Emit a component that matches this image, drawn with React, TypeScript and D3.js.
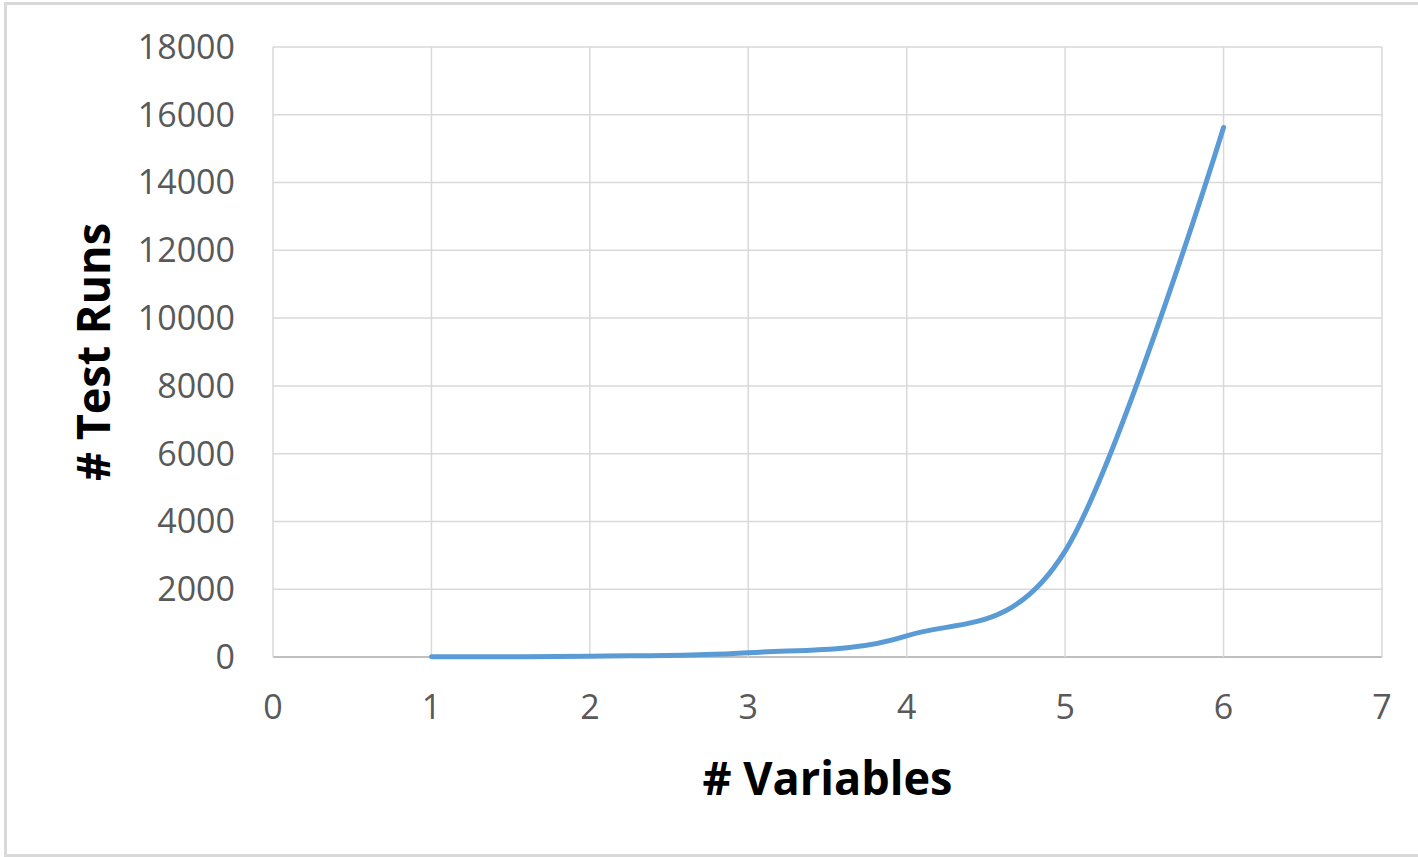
import React from "react";
import * as d3 from "d3";

// Number of test runs needed for a given number of variables
const variables: number[] = [1, 2, 3, 4, 5, 6];
const testRuns: number[] = [5, 25, 125, 625, 3125, 15625];

const xTicks: number[] = [0, 1, 2, 3, 4, 5, 6, 7];
const yTicks: number[] = [0, 2000, 4000, 6000, 8000, 10000, 12000, 14000, 16000, 18000];

const xTitle = "# Variables";
const yTitle = "# Test Runs";

const W = 1418;
const H = 857;
const plot = { left: 273, right: 1382, top: 47, bottom: 657 };

const tickFont = "'Open Sans', 'Liberation Sans', sans-serif";

export default function App() {
  const x = d3.scaleLinear().domain([0, 7]).range([plot.left, plot.right]);
  const y = d3.scaleLinear().domain([0, 18000]).range([plot.bottom, plot.top]);

  const points: [number, number][] = variables.map((v, i) => [v, testRuns[i]]);
  const line = d3
    .line<[number, number]>()
    .x((d) => x(d[0]))
    .y((d) => y(d[1]))
    .curve(d3.curveCardinal.tension(0));

  return (
    <svg
      width={W}
      height={H}
      style={{ position: "absolute", left: 0, top: 0, background: "#fff" }}
    >
      <rect x={0} y={0} width={W} height={H} fill="#fff" />
      <rect
        x={5.5}
        y={3.5}
        width={W + 20}
        height={852}
        fill="none"
        stroke="#d9d9d9"
        strokeWidth={3}
      />

      {/* horizontal gridlines */}
      {yTicks.map((t) => (
        <line
          key={"hy" + t}
          x1={plot.left}
          x2={plot.right}
          y1={y(t)}
          y2={y(t)}
          stroke={t === 0 ? "#bfbfbf" : "#d9d9d9"}
          strokeWidth={t === 0 ? 2 : 1.5}
        />
      ))}
      {/* vertical gridlines */}
      {xTicks.map((t) => (
        <line
          key={"vx" + t}
          x1={x(t)}
          x2={x(t)}
          y1={plot.top}
          y2={plot.bottom}
          stroke="#d9d9d9"
          strokeWidth={1.5}
        />
      ))}

      {/* y tick labels */}
      {yTicks.map((t) => (
        <text
          key={"ly" + t}
          x={235}
          y={y(t)}
          dy="0.35em"
          textAnchor="end"
          fontFamily={tickFont}
          fontSize={34}
          fill="#595959"
        >
          {t}
        </text>
      ))}
      {/* x tick labels */}
      {xTicks.map((t) => (
        <text
          key={"lx" + t}
          x={x(t)}
          y={719}
          textAnchor="middle"
          fontFamily={tickFont}
          fontSize={34}
          fill="#595959"
        >
          {t}
        </text>
      ))}

      {/* data line */}
      <path
        d={line(points) || ""}
        fill="none"
        stroke="#5b9bd5"
        strokeWidth={5}
        strokeLinecap="round"
        strokeLinejoin="round"
      />

      {/* axis titles */}
      <text
        x={(plot.left + plot.right) / 2}
        y={795}
        textAnchor="middle"
        fontFamily={tickFont}
        fontWeight="bold"
        fontSize={46}
        fill="#000"
        textLength={250}
        lengthAdjust="spacingAndGlyphs"
      >
        {xTitle}
      </text>
      <text
        transform={`translate(110, ${(plot.top + plot.bottom) / 2}) rotate(-90)`}
        textAnchor="middle"
        fontFamily={tickFont}
        fontWeight="bold"
        fontSize={46}
        fill="#000"
        textLength={258}
        lengthAdjust="spacingAndGlyphs"
      >
        {yTitle}
      </text>
    </svg>
  );
}
